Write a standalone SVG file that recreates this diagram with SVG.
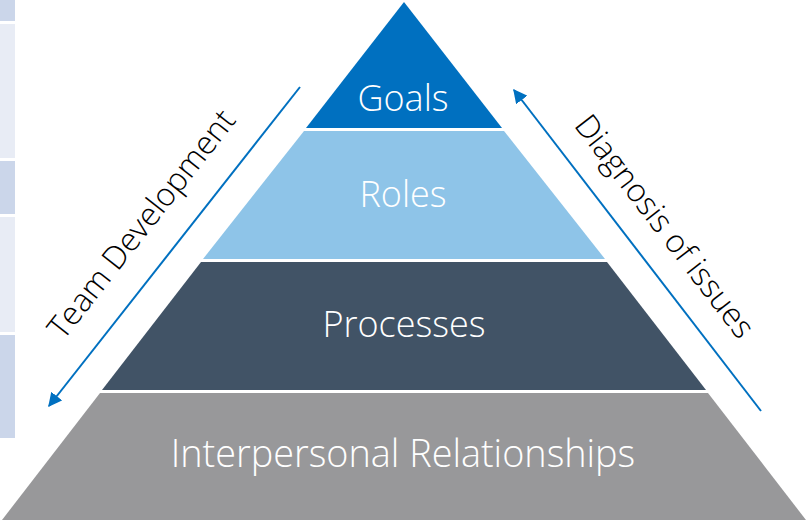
<svg xmlns="http://www.w3.org/2000/svg" width="806" height="523" viewBox="0 0 806 523">
<defs>
<style>
.lbl{font-family:"Open Sans","Noto Sans","Liberation Sans",sans-serif;font-weight:300;fill:#FFFFFF;text-anchor:middle;font-size:36px}
.side{font-family:"Open Sans","Noto Sans","Liberation Sans",sans-serif;font-weight:300;fill:#000000;text-anchor:middle;font-size:32px}
.arr{stroke:#0070C0;stroke-width:2;fill:none}
.stripA{fill:#CBD6EA}
.stripB{fill:#E8ECF5}
</style>
<marker id="ah" viewBox="0 0 10 10" refX="9" refY="5" markerWidth="7" markerHeight="7" markerUnits="strokeWidth" orient="auto">
<path d="M0,0 L10,5 L0,10 Z" fill="#0070C0"/>
</marker>
</defs>
<rect width="806" height="523" fill="#FFFFFF"/>
<g id="strips">
<rect class="stripA" x="0" y="0" width="15" height="21"/>
<rect class="stripB" x="0" y="24" width="15" height="134"/>
<rect class="stripA" x="0" y="161" width="15" height="53"/>
<rect class="stripB" x="0" y="217" width="15" height="115"/>
<rect class="stripA" x="0" y="335" width="15" height="103"/>
</g>
<g id="goals">
<polygon points="404,2 306,128 502,128" fill="#0070C0"/>
<text class="lbl" x="403" y="111">Goals</text>
</g>
<g id="roles">
<polygon points="304,131 504,131 605,259 203,259" fill="#8EC4E8"/>
<text class="lbl" x="403" y="207">Roles</text>
</g>
<g id="processes">
<polygon points="201,262 607,262 706,390 102,390" fill="#415366"/>
<text class="lbl" x="404" y="337">Processes</text>
</g>
<g id="interpersonal">
<polygon points="100,393 708,393 806,520 2,520" fill="#98989A"/>
<text class="lbl" x="403" y="467" style="font-size:37.8px">Interpersonal Relationships</text>
</g>
<g id="connectors">
<line class="arr" x1="300" y1="87" x2="49" y2="406" marker-end="url(#ah)"/>
<line class="arr" x1="761" y1="411" x2="514" y2="90" marker-end="url(#ah)"/>
</g>
<g id="side-labels">
<text class="side" transform="translate(150,231) rotate(-51.8)">Team Development</text>
<text class="side" transform="translate(656,233) rotate(52.4)">Diagnosis of issues</text>
</g>
</svg>
